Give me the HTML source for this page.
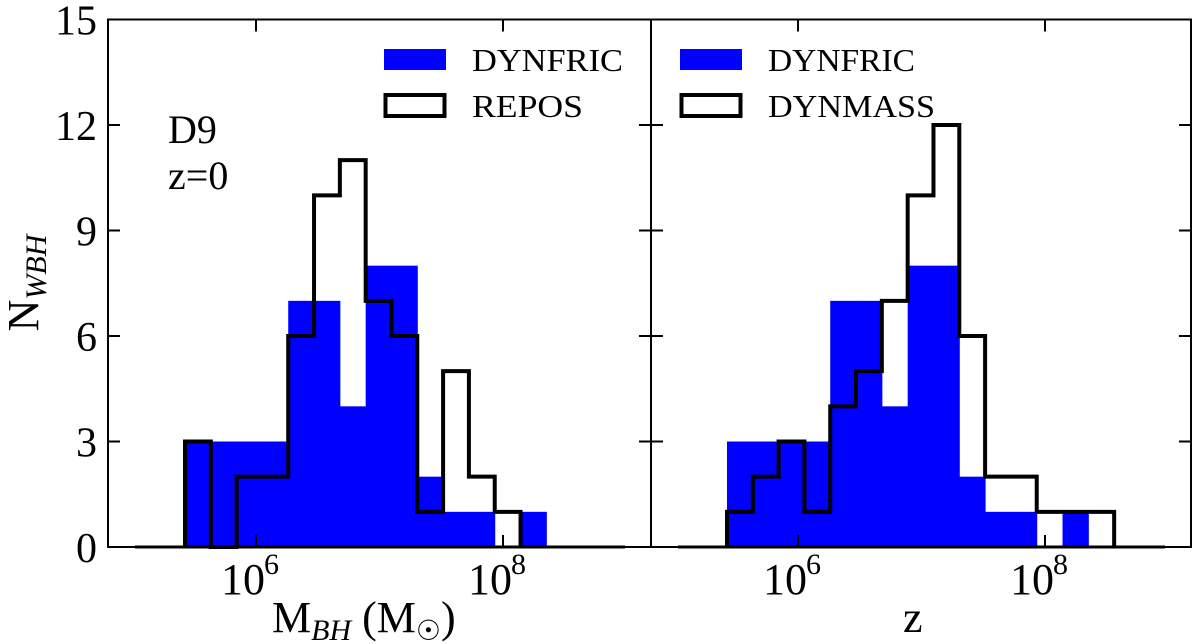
<!DOCTYPE html>
<html><head><meta charset="utf-8">
<style>
html,body{margin:0;padding:0;background:#fff;}
svg{display:block;font-family:"Liberation Serif","DejaVu Serif",serif;}
</style></head>
<body>
<svg id="chart" width="1200" height="644" viewBox="0 0 1200 644"></svg>
<script>
// Data
const binEdges = [5.425,5.634,5.843,6.052,6.261,6.470,6.679,6.888,7.097,7.306,7.515,7.724,7.933,8.142,8.351,8.560];
const leftDynfric = [3,3,3,3,7,7,4,8,8,2,1,1,0,1,0];
const leftRepos   = [3,0,2,2,6,10,11,7,6,1,5,2,1,0,0];
const rightDynfric= [3,3,3,3,7,7,4,8,8,2,1,1,0,1,0];
const rightDynmass= [1,2,3,1,4,5,7,10,12,6,2,2,1,1,1];
const yTicks = [0,3,6,9,12,15];
const xTicks = [6,8];

const NS="http://www.w3.org/2000/svg";
const svg=document.getElementById('chart');
function mk(tag,attrs,parent){const e=document.createElementNS(NS,tag);for(const k in attrs)e.setAttribute(k,attrs[k]);(parent||svg).appendChild(e);return e;}

const yTop=19.5, yBot=547;
function Y(v){return yBot-(v/15)*(yBot-yTop);}
const pxPerDec=123.5;
const panels=[
 {x0:108,x1:651,tick6:256,blue:leftDynfric,line:leftRepos,name:'left',lab:['DYNFRIC','REPOS'],lx:384,w:[151,111]},
 {x0:651,x1:1191,tick6:798,blue:rightDynfric,line:rightDynmass,name:'right',lab:['DYNFRIC','DYNMASS'],lx:680,w:[147,167]}
];

panels.forEach((p,pi)=>{
  const X=v=>p.tick6+(v-6)*pxPerDec;
  const g=mk('g',{});
  
  
  p.blue.forEach((v,i)=>{
    if(v<=0)return;
    const r=mk('rect',{x:X(binEdges[i]),y:Y(v),width:X(binEdges[i+1])-X(binEdges[i])+0.5,height:yBot-Y(v),fill:'#0000ff'},g);
    
    
  });
  const zl=mk('line',{x1:p.x0+27,x2:p.x1-26,y1:yBot,y2:yBot,stroke:'#000','stroke-width':3},g);
  
  
  let d='', n=p.line.length;
  let last=n; while(last>0&&p.line[last-1]===0)last--;
  d+='M'+X(binEdges[0])+','+yBot;
  for(let i=0;i<last;i++){
    d+=' L'+X(binEdges[i])+','+Y(p.line[i])+' L'+X(binEdges[i+1])+','+Y(p.line[i]);
  }
  d+=' L'+X(binEdges[last])+','+yBot;
  const path=mk('path',{d:d,fill:'none',stroke:'#000','stroke-width':4,'stroke-linejoin':'miter'},g);
  
  
  const fr=mk('rect',{x:p.x0,y:yTop,width:p.x1-p.x0,height:yBot-yTop,fill:'none',stroke:'#000','stroke-width':2},g);
  
  
  xTicks.forEach(t=>{
    const x=X(t);
    mk('line',{x1:x,x2:x,y1:yBot,y2:yBot-12,stroke:'#000','stroke-width':2},g);
    mk('line',{x1:x,x2:x,y1:yTop,y2:yTop+12,stroke:'#000','stroke-width':2},g);
    const tx=mk('text',{x:x+9,y:594,'font-size':44,'text-anchor':'end',fill:'#000'},g);
    tx.textContent='10';
    
    
    const sp=mk('text',{x:x+8,y:574,'font-size':30,fill:'#000'},g);
    sp.textContent=String(t);
  });
  yTicks.forEach(t=>{
    if(t===0||t===15)return;
    const y=Y(t);
    mk('line',{x1:p.x0,x2:p.x0+12,y1:y,y2:y,stroke:'#000','stroke-width':2},g);
    mk('line',{x1:p.x1-12,x2:p.x1,y1:y,y2:y,stroke:'#000','stroke-width':2},g);
  });
  const lx=p.lx;
  const lb=mk('rect',{x:lx,y:49,width:62,height:21,fill:'#0000ff'},g);
  
  
  const lt1=mk('text',{x:lx+88,y:71,'font-size':32,fill:'#000',textLength:p.w[0],lengthAdjust:'spacingAndGlyphs'},g);
  lt1.textContent=p.lab[0];
  
  
  const lr=mk('rect',{x:lx+1.5,y:95,width:59,height:21,fill:'none',stroke:'#000','stroke-width':4},g);
  
  
  const lt2=mk('text',{x:lx+88,y:117,'font-size':32,fill:'#000',textLength:p.w[1],lengthAdjust:'spacingAndGlyphs'},g);
  lt2.textContent=p.lab[1];
  
  
});

yTicks.forEach(t=>{
  const tx=mk('text',{x:97,y:Y(t)+15,'font-size':42,'text-anchor':'end',fill:'#000'});
  tx.textContent=String(t);
  
  
});
</script>
<div style="position:absolute;left:0;top:0;width:1200px;height:644px;pointer-events:none;">
<svg width="1200" height="644" style="position:absolute;left:0;top:0;font-family:'Liberation Serif','DejaVu Serif',serif;">
  <text x="168" y="143" font-size="40">D9</text>
  <text x="168" y="189" font-size="40">z=0</text>
  <text x="272" y="632" font-size="44">M<tspan font-size="30" font-style="italic" dy="8">BH</tspan><tspan dy="-8"> (M</tspan><tspan font-size="28" dy="8">☉</tspan><tspan dy="-8">)</tspan></text>
  <text x="903" y="632" font-size="44">z</text>
  <text transform="translate(38,283) rotate(-90)" text-anchor="middle" font-size="44">N<tspan font-size="30" font-style="italic" dy="8">WBH</tspan></text>
</svg>
</div>
</body></html>
